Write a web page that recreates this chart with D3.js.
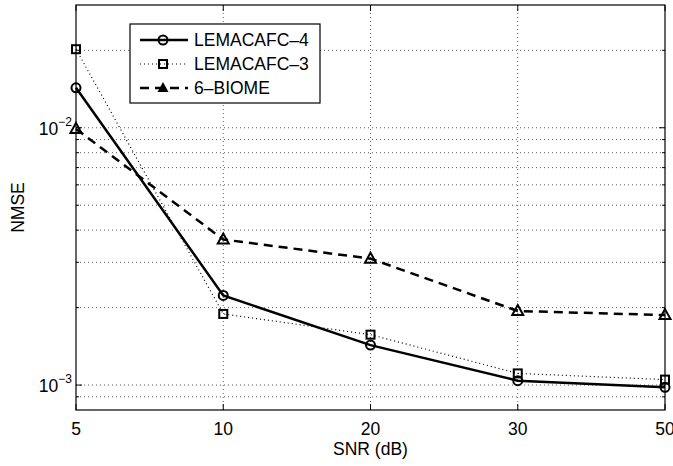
<!DOCTYPE html>
<html>
<head>
<meta charset="utf-8">
<script src="https://cdn.jsdelivr.net/npm/d3@7"></script>
<style>
  body { margin: 0; background: #fff; }
  text { font-family: "Liberation Sans", Arial, sans-serif; }
</style>
</head>
<body>
<div id="chart"></div>
<script>
// data
const snr = ["5", "10", "20", "30", "50"];
const lemacafc4 = [0.0143, 0.00223, 0.00143, 0.00104, 0.00098];
const lemacafc3 = [0.0202, 0.00189, 0.00157, 0.00111, 0.00105];
const biome6 = [0.0099, 0.00368, 0.0031, 0.00194, 0.00187];
const yTicks = [1e-3, 1e-2];
const yMinor = [9e-4, 2e-3, 3e-3, 4e-3, 5e-3, 6e-3, 7e-3, 8e-3, 9e-3, 2e-2];
const seriesNames = ["LEMACAFC\u20134", "LEMACAFC\u20133", "6\u2013BIOME"];

let W = 673, H = 466;
let margin = {top: 5, right: 8, bottom: 56, left: 76},
    width = W - margin.left - margin.right,
    height = H - margin.top - margin.bottom;
let fs = 17.5;

let svg = d3.select("#chart").append("svg")
    .attr("width", W)
    .attr("height", H)
    .append("g")
    .attr("transform", `translate(${margin.left},${margin.top})`);

let x = d3.scalePoint().domain(snr).range([0, width]);
let y = d3.scaleLog().domain([8e-4, 3e-2]).range([height, 0]);

// grid
let grid = svg.append("g").attr("class", "grid")
    .attr("stroke", "#333").attr("stroke-width", 0.8).attr("stroke-dasharray", "1 3");
grid.selectAll(".gx").data(snr.slice(1, -1)).join("line")
    .attr("x1", d => x(d)).attr("x2", d => x(d))
    .attr("y1", 0).attr("y2", height);
grid.selectAll(".gy").data(yTicks.concat(yMinor)).join("line")
    .attr("x1", 0).attr("x2", width)
    .attr("y1", d => y(d)).attr("y2", d => y(d));

// ticks (inside, all four sides)
let ticks = svg.append("g").attr("stroke", "#000").attr("stroke-width", 1);
snr.forEach(d => {
  ticks.append("line").attr("x1", x(d)).attr("x2", x(d)).attr("y1", height).attr("y2", height - 6);
  ticks.append("line").attr("x1", x(d)).attr("x2", x(d)).attr("y1", 0).attr("y2", 6);
});
yTicks.concat(yMinor).forEach(d => {
  let len = yTicks.includes(d) ? 6 : 3;
  ticks.append("line").attr("x1", 0).attr("x2", len).attr("y1", y(d)).attr("y2", y(d));
  ticks.append("line").attr("x1", width).attr("x2", width - len).attr("y1", y(d)).attr("y2", y(d));
});

// series
const series = [
  {name: seriesNames[0], values: lemacafc4, dash: null, width: 2.5, marker: "circle"},
  {name: seriesNames[1], values: lemacafc3, dash: "1 3", width: 1.2, marker: "square"},
  {name: seriesNames[2], values: biome6, dash: "9 6", width: 2.5, marker: "triangle"}
];

let line = d3.line().x((d, i) => x(snr[i])).y(d => y(d));

function drawMarker(g, type, cx, cy) {
  if (type === "circle") {
    g.append("circle").attr("cx", cx).attr("cy", cy).attr("r", 4.5)
      .attr("fill", "none").attr("stroke", "#000").attr("stroke-width", 2);
  } else if (type === "square") {
    g.append("rect").attr("x", cx - 4).attr("y", cy - 4).attr("width", 8).attr("height", 8)
      .attr("fill", "none").attr("stroke", "#000").attr("stroke-width", 2);
  } else {
    g.append("path").attr("d", `M${cx},${cy - 6}L${cx + 5.5},${cy + 4}L${cx - 5.5},${cy + 4}Z`)
      .attr("fill", "none").attr("stroke", "#000").attr("stroke-width", 2).attr("stroke-linejoin", "miter");
  }
}

series.forEach(s => {
  svg.append("path").datum(s.values)
    .attr("fill", "none").attr("stroke", "#000")
    .attr("stroke-width", s.width)
    .attr("stroke-dasharray", s.dash)
    .attr("d", line);
  let mg = svg.append("g");
  s.values.forEach((v, i) => drawMarker(mg, s.marker, x(snr[i]), y(v)));
});

// box
svg.append("rect").attr("x", 0).attr("y", 0).attr("width", width).attr("height", height)
  .attr("fill", "none").attr("stroke", "#000").attr("stroke-width", 1.2);

// x tick labels
svg.append("g").selectAll("text").data(snr).join("text")
  .attr("x", d => x(d)).attr("y", height + 25)
  .attr("text-anchor", "middle").attr("font-size", fs)
  .text(d => d);

// y tick labels 10^n
yTicks.forEach(d => {
  let t = svg.append("text").attr("x", -4).attr("y", y(d) + 7)
    .attr("text-anchor", "end").attr("font-size", fs);
  t.append("tspan").text("10");
  t.append("tspan").attr("font-size", 12).attr("dy", -9).text("\u2212" + Math.round(-Math.log10(d)));
});

// axis titles
svg.append("text").attr("x", width / 2).attr("y", height + 45)
  .attr("text-anchor", "middle").attr("font-size", fs).text("SNR (dB)");
svg.append("text")
  .attr("transform", `translate(${-52},${height / 2}) rotate(-90)`)
  .attr("text-anchor", "middle").attr("font-size", fs).text("NMSE");

// legend
let lg = svg.append("g").attr("transform", `translate(${130 - margin.left},${24 - margin.top})`);
lg.append("rect").attr("x", 0).attr("y", 0).attr("width", 190).attr("height", 79)
  .attr("fill", "#fff").attr("stroke", "#000").attr("stroke-width", 1.2);
series.forEach((s, i) => {
  let cy = 16 + i * 24;
  lg.append("line").attr("x1", 10).attr("x2", 58).attr("y1", cy).attr("y2", cy)
    .attr("stroke", "#000").attr("stroke-width", s.width).attr("stroke-dasharray", s.dash);
  if (s.marker === "triangle") {
    lg.append("path").attr("d", `M${33},${cy - 6}L${38.5},${cy + 4}L${27.5},${cy + 4}Z`).attr("fill", "#000");
  } else {
    drawMarker(lg, s.marker, 33, cy);
  }
  lg.append("text").attr("x", 64).attr("y", cy + 6).attr("font-size", fs).text(s.name);
});
</script>
</body>
</html>
